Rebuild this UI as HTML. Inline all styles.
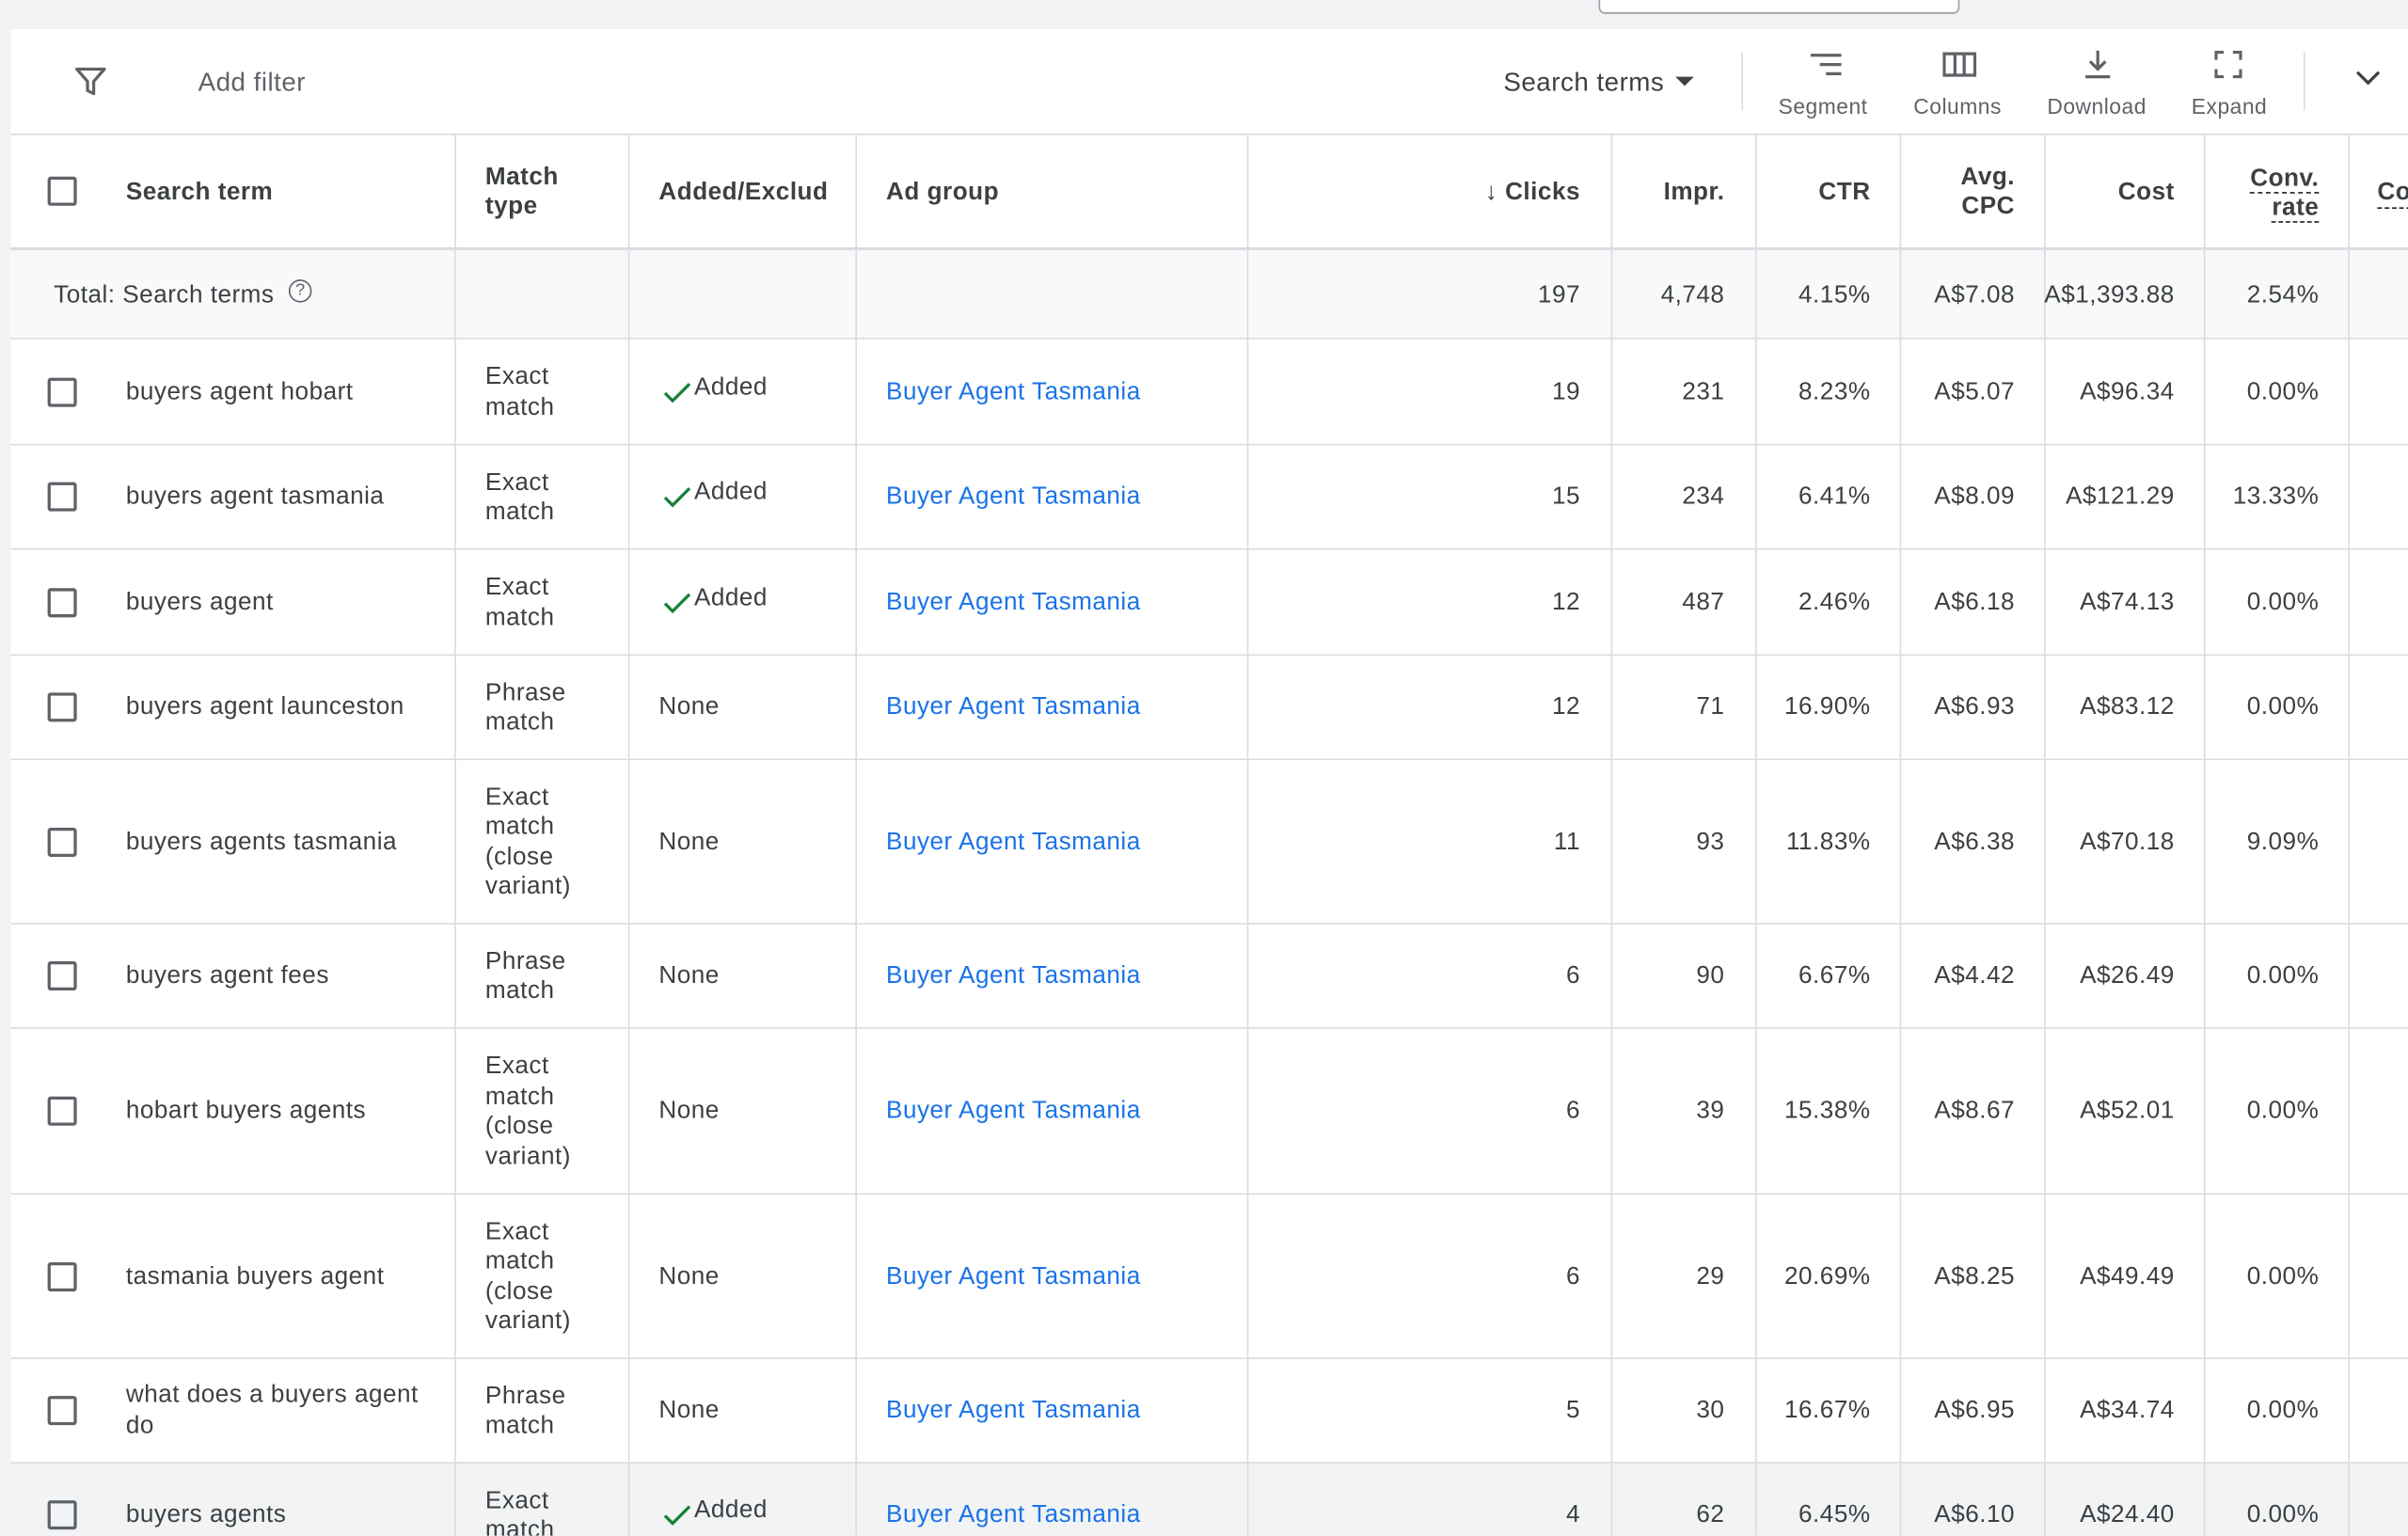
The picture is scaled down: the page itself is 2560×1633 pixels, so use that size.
<!DOCTYPE html>
<html><head><meta charset="utf-8"><style>
html,body{margin:0;padding:0;width:2560px;height:1633px;overflow:hidden;background:#f1f3f4;}
#w{position:absolute;left:0;top:0;width:1568px;height:1000px;overflow:hidden;transform:scale(1.63265);transform-origin:0 0;font-family:"Liberation Sans",Arial,sans-serif;color:#3c4043;font-size:16px;letter-spacing:0.3px;}
.a{position:absolute;white-space:nowrap;}
.panel{position:absolute;left:7px;top:19px;width:1561px;height:981px;background:#fff;}
.vl{position:absolute;top:87px;height:913px;width:1px;background:#dadce0;}
.hl{position:absolute;left:7px;width:1561px;height:1px;background:#dadce0;}
.cb{position:absolute;left:31px;width:15px;height:15px;border:2px solid #5f6368;border-radius:2px;}
.h{font-weight:bold;color:#3c4043;line-height:19px;}
.r{text-align:right;}
.l{color:#1a73e8;}
.tb{font-size:14px;color:#5f6368;text-align:center;}
</style></head><body><div id="w">
<div class="a" style="left:1041px;top:-4px;width:233px;height:11px;border:1px solid #9aa0a6;border-radius:4px;background:#fff"></div>
<div class="panel"></div>
<div class="a" style="left:7px;top:162px;width:1561px;height:58px;background:#f8f9fa"></div>
<div class="a" style="left:7px;top:952px;width:1561px;height:48px;background:#f1f3f4"></div>
<svg class="a" style="left:48px;top:42px" width="22" height="22" viewBox="0 0 22 22"><path d="M2 3h18l-7 8v8l-4-2v-6z" fill="none" stroke="#5f6368" stroke-width="2" stroke-linejoin="round"/></svg>
<div class="a" style="left:129px;top:44px;color:#5f6368;font-size:17px">Add filter</div>
<div class="a" style="left:979px;top:44px;color:#3c4043;font-size:17px">Search terms</div>
<div class="a" style="left:1091px;top:50px;width:0;height:0;border-left:6px solid transparent;border-right:6px solid transparent;border-top:6px solid #3c4043"></div>
<div class="a" style="left:1134px;top:34px;width:1px;height:38px;background:#dadce0"></div>
<div class="a" style="left:1500px;top:34px;width:1px;height:38px;background:#dadce0"></div>
<svg class="a" style="left:1177px;top:33px" width="24" height="18"><path d="M2 3h20M8 9h14M12 15h10" stroke="#5f6368" stroke-width="2"/></svg>
<div class="a tb" style="left:1158px;top:61px">Segment</div>
<svg class="a" style="left:1265px;top:33px" width="22" height="18"><rect x="1" y="2" width="20" height="14" fill="none" stroke="#5f6368" stroke-width="2"/><path d="M8 2v14M14 2v14" stroke="#5f6368" stroke-width="2"/></svg>
<div class="a tb" style="left:1246px;top:61px">Columns</div>
<svg class="a" style="left:1355px;top:31px" width="22" height="22"><path d="M11 2v12M6 9l5 5 5-5M3 19h16" fill="none" stroke="#5f6368" stroke-width="2"/></svg>
<div class="a tb" style="left:1333px;top:61px">Download</div>
<svg class="a" style="left:1442px;top:33px" width="18" height="18"><path d="M1 6V1h5M12 1h5v5M17 12v5h-5M6 17H1v-5" fill="none" stroke="#5f6368" stroke-width="2"/></svg>
<div class="a tb" style="left:1427px;top:61px">Expand</div>
<svg class="a" style="left:1533px;top:45px" width="18" height="12"><path d="M2 2l7 7 7-7" fill="none" stroke="#3c4043" stroke-width="2"/></svg>
<div class="hl" style="top:87px"></div>
<div class="hl" style="top:161px;height:2px"></div>
<div class="hl" style="top:220px"></div><div class="hl" style="top:289px"></div><div class="hl" style="top:357px"></div><div class="hl" style="top:426px"></div><div class="hl" style="top:494px"></div><div class="hl" style="top:601px"></div><div class="hl" style="top:669px"></div><div class="hl" style="top:777px"></div><div class="hl" style="top:884px"></div><div class="hl" style="top:952px"></div>
<div class="vl" style="left:296px"></div><div class="vl" style="left:409px"></div><div class="vl" style="left:557px"></div><div class="vl" style="left:812px"></div><div class="vl" style="left:1049px"></div><div class="vl" style="left:1143px"></div><div class="vl" style="left:1237px"></div><div class="vl" style="left:1331px"></div><div class="vl" style="left:1435px"></div><div class="vl" style="left:1529px"></div>
<div class="cb" style="top:115px"></div>
<div class="a h" style="left:82px;top:116px">Search term</div>
<div class="a h" style="left:316px;top:106px">Match<br>type</div>
<div class="a h" style="left:429px;top:116px;width:110px;overflow:hidden">Added/Excluded</div>
<div class="a h" style="left:577px;top:116px">Ad group</div>
<div class="a h r" style="left:940px;top:116px;width:89px">↓ Clicks</div>
<div class="a h r" style="left:1060px;top:116px;width:63px">Impr.</div>
<div class="a h r" style="left:1150px;top:116px;width:68px">CTR</div>
<div class="a h r" style="left:1240px;top:106px;width:72px">Avg.<br>CPC</div>
<div class="a h r" style="left:1340px;top:116px;width:76px">Cost</div>
<div class="a h r" style="left:1440px;top:107px;width:70px;line-height:19px"><span style="border-bottom:1px dashed #202124">Conv.</span><br><span style="border-bottom:1px dashed #202124">rate</span></div>
<div class="a h" style="left:1548px;top:116px;border-bottom:1px dashed #202124">Co</div>
<div class="a" style="left:35px;top:184px">Total: Search terms</div>
<div class="a" style="left:188px;top:182px;width:13px;height:13px;border:1.5px solid #5f6368;border-radius:50%;font-size:11px;text-align:center;line-height:13px;color:#5f6368;letter-spacing:0">?</div>
<div class="a r" style="left:940px;top:184px;width:89px">197</div>
<div class="a r" style="left:1060px;top:184px;width:63px">4,748</div>
<div class="a r" style="left:1150px;top:184px;width:68px">4.15%</div>
<div class="a r" style="left:1240px;top:184px;width:72px">A$7.08</div>
<div class="a r" style="left:1320px;top:184px;width:96px">A$1,393.88</div>
<div class="a r" style="left:1440px;top:184px;width:70px">2.54%</div>
<div id="rows"></div>
</div>
<script>
var rows=[
[220,289,"buyers agent hobart",["Exact","match"],1,"19","231","8.23%","A$5.07","A$96.34","0.00%"],
[289,357,"buyers agent tasmania",["Exact","match"],1,"15","234","6.41%","A$8.09","A$121.29","13.33%"],
[357,426,"buyers agent",["Exact","match"],1,"12","487","2.46%","A$6.18","A$74.13","0.00%"],
[426,494,"buyers agent launceston",["Phrase","match"],0,"12","71","16.90%","A$6.93","A$83.12","0.00%"],
[494,601,"buyers agents tasmania",["Exact","match","(close","variant)"],0,"11","93","11.83%","A$6.38","A$70.18","9.09%"],
[601,669,"buyers agent fees",["Phrase","match"],0,"6","90","6.67%","A$4.42","A$26.49","0.00%"],
[669,777,"hobart buyers agents",["Exact","match","(close","variant)"],0,"6","39","15.38%","A$8.67","A$52.01","0.00%"],
[777,884,"tasmania buyers agent",["Exact","match","(close","variant)"],0,"6","29","20.69%","A$8.25","A$49.49","0.00%"],
[884,952,"what does a buyers agent<br>do",["Phrase","match"],0,"5","30","16.67%","A$6.95","A$34.74","0.00%"],
[952,1020,"buyers agents",["Exact","match"],1,"4","62","6.45%","A$6.10","A$24.40","0.00%"]];
var h="";
rows.forEach(function(r){var c=(r[0]+r[1])/2;var t=c-8;
h+='<div class="cb" style="top:'+(c-9)+'px"></div>';
var n=r[2].indexOf("<br>")>=0;
h+='<div class="a" style="left:82px;top:'+(n?c-19:t-1)+'px;line-height:20px">'+r[2]+'</div>';
var m=r[3];h+='<div class="a" style="left:316px;top:'+(c-m.length*9.75+1)+'px;line-height:19.5px">'+m.join("<br>")+'</div>';
if(r[4])h+='<svg class="a" style="left:431px;top:'+(c-6)+'px" width="20" height="14"><path d="M2 7l5 5 11-11" fill="none" stroke="#188038" stroke-width="2"/></svg><div class="a" style="left:452px;top:'+(t-3)+'px">Added</div>';
else h+='<div class="a" style="left:429px;top:'+t+'px">None</div>';
h+='<div class="a l" style="left:577px;top:'+t+'px">Buyer Agent Tasmania</div>';
var cols=[[940,89],[1060,63],[1150,68],[1240,72],[1320,96],[1440,70]];
cols.forEach(function(k,i){h+='<div class="a r" style="left:'+k[0]+'px;top:'+t+'px;width:'+k[1]+'px">'+r[5+i]+'</div>';});
});
document.getElementById("rows").innerHTML=h;
</script>
</body></html>
